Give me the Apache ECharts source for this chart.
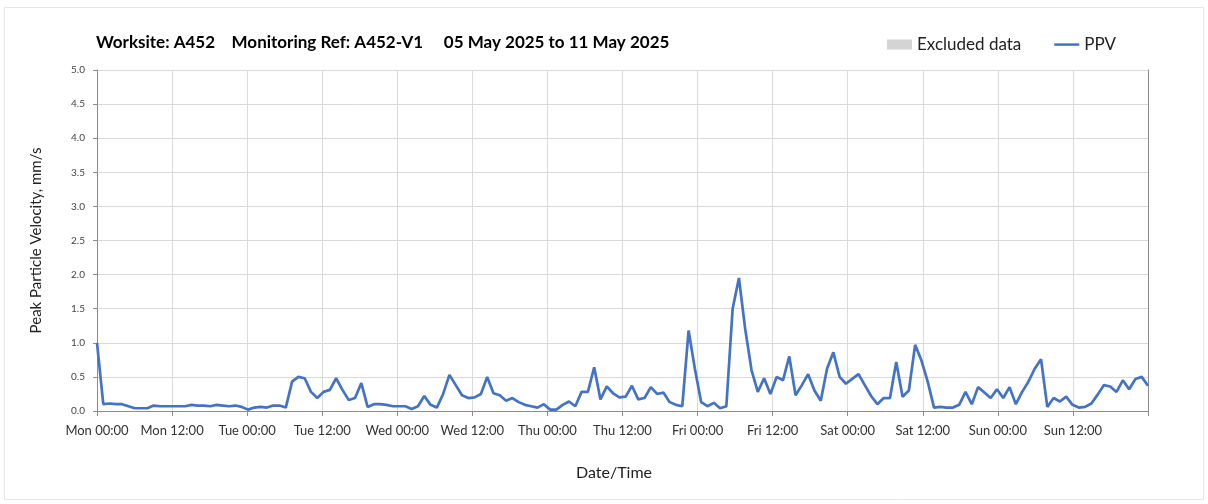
<!doctype html>
<html>
<head>
<meta charset="UTF-8">
<title>PPV A452-V1</title>
<style>
  html, body { margin: 0; padding: 0; background: #fff; }
  #main { width: 1208px; height: 504px; }
</style>
</head>
<body>
<div id="main"></div>
<script src="https://cdn.jsdelivr.net/npm/echarts@6/dist/echarts.min.js"></script>
<script type="text/javascript">
// hourly PPV readings, mm/s (Mon 00:00 .. Sun 23:00)
var ppvMon = [1.0, 0.1, 0.11, 0.1, 0.1, 0.07, 0.04, 0.04, 0.04, 0.08, 0.07, 0.07,
              0.07, 0.07, 0.07, 0.09, 0.08, 0.08, 0.07, 0.09, 0.08, 0.07, 0.08, 0.06];
var ppvTue = [0.02, 0.05, 0.06, 0.05, 0.08, 0.08, 0.05, 0.43, 0.5, 0.48, 0.28, 0.19,
              0.28, 0.31, 0.48, 0.31, 0.16, 0.19, 0.41, 0.06, 0.1, 0.1, 0.09, 0.07];
var ppvWed = [0.07, 0.07, 0.03, 0.07, 0.22, 0.09, 0.05, 0.25, 0.53, 0.38, 0.23, 0.19,
              0.2, 0.25, 0.5, 0.26, 0.23, 0.15, 0.19, 0.13, 0.09, 0.07, 0.05, 0.1];
var ppvThu = [0.02, 0.02, 0.09, 0.14, 0.07, 0.28, 0.28, 0.64, 0.17, 0.36, 0.26, 0.2,
              0.21, 0.37, 0.17, 0.19, 0.35, 0.25, 0.27, 0.13, 0.09, 0.07, 1.18, 0.62];
var ppvFri = [0.13, 0.07, 0.12, 0.04, 0.07, 1.5, 1.95, 1.2, 0.6, 0.28, 0.48, 0.25,
              0.5, 0.45, 0.8, 0.23, 0.38, 0.54, 0.3, 0.15, 0.62, 0.86, 0.5, 0.4];
var ppvSat = [0.47, 0.54, 0.38, 0.22, 0.1, 0.19, 0.19, 0.72, 0.21, 0.3, 0.97, 0.74,
              0.43, 0.05, 0.06, 0.05, 0.05, 0.09, 0.28, 0.1, 0.35, 0.27, 0.19, 0.32];
var ppvSun = [0.19, 0.35, 0.1, 0.28, 0.43, 0.62, 0.76, 0.06, 0.19, 0.14, 0.21, 0.09,
              0.05, 0.06, 0.11, 0.24, 0.38, 0.36, 0.28, 0.45, 0.32, 0.47, 0.5, 0.37];

var days = ['Mon', 'Tue', 'Wed', 'Thu', 'Fri', 'Sat', 'Sun'];
var tickLabels = ['Mon 00:00', 'Mon 12:00', 'Tue 00:00', 'Tue 12:00', 'Wed 00:00', 'Wed 12:00',
                  'Thu 00:00', 'Thu 12:00', 'Fri 00:00', 'Fri 12:00', 'Sat 00:00', 'Sat 12:00',
                  'Sun 00:00', 'Sun 12:00', ''];

var ppv = [].concat(ppvMon, ppvTue, ppvWed, ppvThu, ppvFri, ppvSat, ppvSun);
var hours = [];
days.forEach(function (d) {
    for (var h = 0; h < 24; h++) {
        hours.push(d + ' ' + (h < 10 ? '0' + h : h) + ':00');
    }
});

var font = 'Lato, "Open Sans", sans-serif';
var myChart = echarts.init(document.getElementById('main'));

var option = {
    backgroundColor: '#fff',
    textStyle: { fontFamily: font },
    title: {
        text: 'Worksite: A452    Monitoring Ref: A452-V1     05 May 2025 to 11 May 2025',
        left: 91,
        top: 29,
        textStyle: { fontSize: 17, fontWeight: 'bold', color: '#000', fontFamily: font }
    },
    legend: {
        left: 882,
        top: 31,
        itemWidth: 25,
        itemHeight: 10,
        itemGap: 33,
        textStyle: { fontSize: 17, color: '#222', fontFamily: font },
        data: [
            { name: 'Excluded data', icon: 'rect' },
            // thin line icon: zero-length segments keep the box 10 high
            { name: 'PPV', icon: 'path://M0,0 L0,0 M0,10 L0,10 M0,3.6 L30,3.6 L30,6.6 L0,6.6 Z' }
        ]
    },
    graphic: [{
        type: 'rect',
        shape: { x: 4.5, y: 7.5, width: 1199, height: 492 },
        style: { fill: 'none', stroke: '#e6e6e6', lineWidth: 1 },
        silent: true
    }],
    grid: { left: 97, right: 60, top: 70, bottom: 93 },
    xAxis: [{
        type: 'category',
        data: hours,
        boundaryGap: false,
        show: false
    }, {
        type: 'value',
        min: 0,
        max: 168,
        interval: 12,
        position: 'bottom',
        name: 'Date/Time',
        nameLocation: 'middle',
        nameGap: 54,
        nameTextStyle: { fontSize: 16, color: '#222', fontFamily: font, padding: [0, 17, 0, 0] },
        axisLine: { lineStyle: { color: '#8c8c8c', width: 1 } },
        axisTick: { length: 5, lineStyle: { color: '#8c8c8c' } },
        axisLabel: {
            fontSize: 13, color: '#333', margin: 13,
            formatter: function (v) { return tickLabels[Math.round(v / 12)]; }
        },
        splitLine: { show: true, lineStyle: { color: '#d9d9d9', width: 1 } }
    }],
    yAxis: [{
        type: 'value',
        min: 0,
        max: 5,
        interval: 0.5,
        name: 'Peak Particle Velocity, mm/s',
        nameLocation: 'middle',
        nameGap: 53,
        nameTextStyle: { fontSize: 15, color: '#222', fontFamily: font },
        axisLine: { show: true, lineStyle: { color: '#8c8c8c', width: 1 } },
        axisTick: { show: true, length: 4, lineStyle: { color: '#8c8c8c' } },
        axisLabel: {
            fontSize: 10, color: '#444', margin: 12,
            formatter: function (v) { return v.toFixed(1); }
        },
        splitLine: { lineStyle: { color: '#d9d9d9', width: 1 } }
    }, {
        type: 'value',
        min: 0,
        max: 5,
        interval: 0.5,
        position: 'right',
        axisLine: { show: true, lineStyle: { color: '#8c8c8c', width: 1 } },
        axisTick: { show: false },
        axisLabel: { show: false },
        splitLine: { show: false }
    }],
    series: [{
        name: 'Excluded data',
        type: 'bar',
        xAxisIndex: 0,
        itemStyle: { color: '#d4d4d4' },
        data: []
    }, {
        name: 'PPV',
        type: 'line',
        xAxisIndex: 0,
        yAxisIndex: 0,
        symbol: 'none',
        lineStyle: { color: '#4472c4', width: 2.7 },
        itemStyle: { color: '#4472c4' },
        data: ppv
    }],
    animation: false
};

myChart.setOption(option);
</script>
</body>
</html>
